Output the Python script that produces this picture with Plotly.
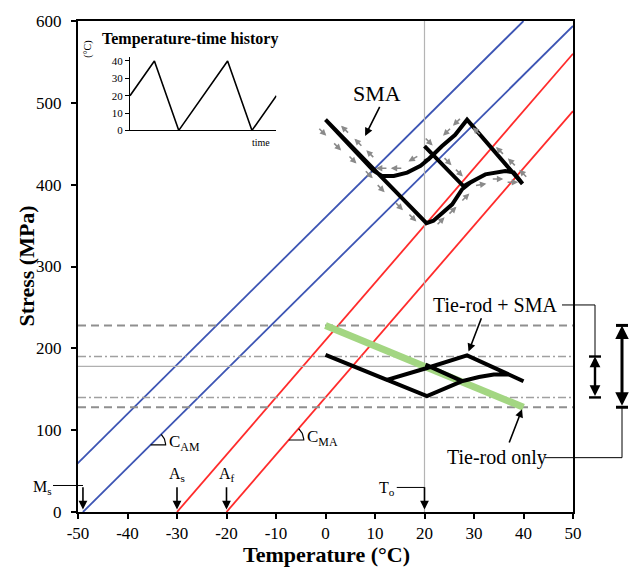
import math
import plotly.graph_objects as go

# ---------------- data ----------------
T_RANGE = [-50, 50]
S_RANGE = [0, 600]
x_ticks = [-50, -40, -30, -20, -10, 0, 10, 20, 30, 40, 50]
y_ticks = [0, 100, 200, 300, 400, 500, 600]

# martensite / austenite transformation lines: zero-stress temperature and slope (MPa/°C)
blue_T0 = [-60, -49]          # Mf, Ms
C_AM = 6
red_T0 = [-30, -20]           # As, Af
C_MA = 7

# stress bounds (MPa)
tie_rod_max, tie_rod_min = 228, 128
combined_max, combined_min = 190, 140
mean_stress = 178
T_o = 20

# tie-rod only response
tie_T = [0, 40]
tie_S = [228, 128]

# SMA stress path over the temperature cycle
sma_T = [20.0, 27.9, 29.3, 32.3, 36.3, 38.0, 39.8, 28.6, 26.2, 23.5, 20.8, 19.2, 16.5, 13.8, 11.4, 9.7,
         0.0, 20.4, 21.8, 25.6, 27.6, 29.3, 32.3, 36.3, 38.0, 39.8, 28.6, 26.2, 23.5, 20.8, 20.0]
sma_S = [447, 398, 403, 412.6, 416.7, 415, 401, 479.4, 461, 447, 431, 423, 414.7, 410.7, 410.7, 417,
         479.4, 353, 356, 376, 394.4, 402.6, 412.6, 416.7, 415, 401, 479.4, 461, 447, 431, 428]

# tie-rod + SMA stress path
combo_T = [20.2, 27.6, 31.0, 34.0, 37.0, 40.0, 28.6, 20.5, 12.4, 0.0, 20.5, 27.6, 31.0, 34.0, 37.0, 40.0,
           28.6, 20.5, 20.0]
combo_S = [180, 160, 165, 168, 168.1, 159.8, 191.4, 176, 161.5, 192, 141.6, 160, 165, 168, 168.1, 159.8,
           191.4, 176, 175.2]

# direction arrows along the SMA path: temperature, stress, direction (deg)
arr_T = [-0.7, 2.3, 5.4, 8.7, 11.1, 14.8, 17.5, 4.0, 6.7, 9.1, 11.4, 14.4, 17.8, 24.6, 26.6,
         20.8, 24.6, 26.9, 30.6, 35.3, 37.7, 40.0, 23.2, 25.6, 28.2, 31.3, 34.7, 37.7]
arr_S = [465, 447, 431, 413, 396, 374, 360, 467, 451, 437, 420, 420, 432, 465, 477,
         453, 429, 415, 465, 441, 427, 413, 355, 368, 384, 400, 407, 403]
arr_dir = [-45, -45, -45, -45, -45, -45, -45, 135, 135, 135, 180, 180, 210, 225, 225,
           -45, -45, -45, 135, 135, 135, 135, 45, 45, 45, 10, 0, 0]

# characteristic temperatures marked on the axis
mark_T = [-49, -30, -20, 20]
mark_labels = ["M<sub>s</sub>", "A<sub>s</sub>", "A<sub>f</sub>", "T<sub>o</sub>"]

# temperature-time history (inset)
hist_t = [0, 1, 2, 4, 5, 6]
hist_temp = [20, 40, 0, 40, 0, 20]
hist_ticks = [0, 10, 20, 30, 40]

# ---------------- layout constants ----------------
W, H = 630, 570
ML, MR, MT, MB = 78, 57, 17, 58
PW, PH = W - ML - MR, H - MT - MB
PX_T = PW / (T_RANGE[1] - T_RANGE[0])
PX_S = PH / (S_RANGE[1] - S_RANGE[0])

FONT = "Liberation Serif"
BLUE = "#3d55b4"
RED = "#ff2b2b"
GREY = "#8f8f8f"


def px_x(px):
    """paper x coordinate of a horizontal pixel position"""
    return (px - ML) / PW


def px_y(py):
    """paper y coordinate of a vertical pixel position"""
    return ((H - MB) - py) / PH


def line_end(t0, slope):
    t_end = min(T_RANGE[1], t0 + S_RANGE[1] / slope)
    return [t0, t_end], [0, slope * (t_end - t0)]


fig = go.Figure()

# transformation lines
for t0 in blue_T0:
    xs, ys = line_end(t0, C_AM)
    fig.add_trace(go.Scatter(x=xs, y=ys, mode="lines", line=dict(color=BLUE, width=1.8), hoverinfo="skip"))
for t0 in red_T0:
    xs, ys = line_end(t0, C_MA)
    fig.add_trace(go.Scatter(x=xs, y=ys, mode="lines", line=dict(color=RED, width=1.8), hoverinfo="skip"))

# stress bound lines
for lvl in (tie_rod_max, tie_rod_min):
    fig.add_trace(go.Scatter(x=T_RANGE, y=[lvl, lvl], mode="lines",
                             line=dict(color=GREY, width=2, dash="8px,5px"), hoverinfo="skip"))
for lvl in (combined_max, combined_min):
    fig.add_trace(go.Scatter(x=T_RANGE, y=[lvl, lvl], mode="lines",
                             line=dict(color="#a0a0a0", width=1.6, dash="8px,3px,2px,3px"), hoverinfo="skip"))
fig.add_trace(go.Scatter(x=T_RANGE, y=[mean_stress, mean_stress], mode="lines",
                         line=dict(color="#b0b0b0", width=1.2), hoverinfo="skip"))
fig.add_trace(go.Scatter(x=[T_o, T_o], y=S_RANGE, mode="lines",
                         line=dict(color="#b4b4b4", width=1.2), hoverinfo="skip"))

# tie-rod only
fig.add_trace(go.Scatter(x=tie_T, y=tie_S, mode="lines",
                         line=dict(color="#a3d682", width=7), hoverinfo="skip"))

# SMA and tie-rod + SMA paths
fig.add_trace(go.Scatter(x=sma_T, y=sma_S, mode="lines",
                         line=dict(color="black", width=4), hoverinfo="skip"))
fig.add_trace(go.Scatter(x=combo_T, y=combo_S, mode="lines",
                         line=dict(color="black", width=4), hoverinfo="skip"))

annotations = []


# slope indicators for C_AM and C_MA
def angle_mark(t0, slope, s_at, label, label_dt):
    tc = t0 + s_at / slope
    r = 15
    ang = math.atan(slope * PX_S / PX_T)
    arc_x, arc_y = [tc], [s_at]
    for i in range(13):
        a = ang * i / 12
        arc_x.append(tc + r * math.cos(a) / PX_T)
        arc_y.append(s_at + r * math.sin(a) / PX_S)
    fig.add_trace(go.Scatter(x=arc_x, y=arc_y, mode="lines", line=dict(color="black", width=1.2),
                             hoverinfo="skip"))
    annotations.append(dict(x=tc + label_dt, y=s_at + 2, xref="x", yref="y", text=label, showarrow=False,
                            xanchor="left", yanchor="middle", font=dict(family=FONT, size=17, color="black")))


angle_mark(blue_T0[1], C_AM, 82, "C<sub>AM</sub>", 3.4)
angle_mark(red_T0[1], C_MA, 88, "C<sub>MA</sub>", 3.3)

# inset: temperature-time history
fig.add_trace(go.Scatter(x=hist_t, y=hist_temp, mode="lines", xaxis="x2", yaxis="y2",
                         line=dict(color="black", width=1.6), hoverinfo="skip"))

# direction arrows on the SMA path
for t, s, a in zip(arr_T, arr_S, arr_dir):
    rad = math.radians(a)
    half = 6
    annotations.append(dict(
        x=t + half * math.cos(rad) / PX_T, y=s + half * math.sin(rad) / PX_S, xref="x", yref="y",
        ax=-2 * half * math.cos(rad), ay=2 * half * math.sin(rad), text="", showarrow=True,
        arrowhead=2, arrowsize=0.8, arrowwidth=1.6, arrowcolor="#8a8a8a"))

# characteristic temperature arrows
for t in mark_T:
    annotations.append(dict(x=t, y=3, ax=t, ay=32, xref="x", yref="y", axref="x", ayref="y",
                            text="", showarrow=True, arrowhead=2, arrowsize=1.1, arrowwidth=1.6,
                            arrowcolor="black"))
lab_font = dict(family=FONT, size=16, color="black")
annotations.append(dict(x=px_x(42.5), y=30, xref="paper", yref="y", text=mark_labels[0], showarrow=False,
                        xanchor="center", yanchor="middle", font=lab_font))
annotations.append(dict(x=mark_T[1], y=32, xref="x", yref="y", text=mark_labels[1], showarrow=False,
                        xanchor="center", yanchor="bottom", font=lab_font))
annotations.append(dict(x=mark_T[2], y=32, xref="x", yref="y", text=mark_labels[2], showarrow=False,
                        xanchor="center", yanchor="bottom", font=lab_font))
annotations.append(dict(x=12.4, y=29, xref="x", yref="y", text=mark_labels[3], showarrow=False,
                        xanchor="center", yanchor="middle", font=lab_font))

# path labels
txt_font = dict(family=FONT, size=20, color="black")
annotations.append(dict(x=10.4, y=512, xref="x", yref="y", text="SMA", showarrow=False,
                        xanchor="center", font=dict(family=FONT, size=22, color="black")))
annotations.append(dict(x=8.0, y=459.6, ax=11.1, ay=497, xref="x", yref="y", axref="x", ayref="y",
                        text="", showarrow=True, arrowhead=2, arrowsize=1, arrowwidth=1.6, arrowcolor="black"))
annotations.append(dict(x=34.2, y=253, xref="x", yref="y", text="Tie-rod + SMA", showarrow=False,
                        xanchor="center", font=txt_font))
annotations.append(dict(x=28.9, y=196, ax=31.6, ay=238.6, xref="x", yref="y", axref="x", ayref="y",
                        text="", showarrow=True, arrowhead=2, arrowsize=1, arrowwidth=1.6, arrowcolor="black"))
annotations.append(dict(x=34.6, y=66.5, xref="x", yref="y", text="Tie-rod only", showarrow=False,
                        xanchor="center", font=txt_font))
annotations.append(dict(x=39.7, y=125.5, ax=37.0, ay=83, xref="x", yref="y", axref="x", ayref="y",
                        text="", showarrow=True, arrowhead=2, arrowsize=1, arrowwidth=1.6, arrowcolor="black"))

# stress range double arrows beside the plot
x_small, x_big = px_x(595), px_x(622)
ranges = ((x_small, combined_max, combined_min, 2.4), (x_big, tie_rod_max, tie_rod_min, 3))
for xp, top, bot, w in ranges:
    annotations.append(dict(x=xp, y=top, ax=0, ay=bot, xref="paper", yref="y", ayref="y",
                            text="", showarrow=True, arrowhead=2, startarrowhead=2, arrowside="end+start",
                            arrowsize=0.9, startarrowsize=0.9, arrowwidth=w, arrowcolor="black"))

# axis titles
title_font = dict(family=FONT, size=22, color="black")
annotations.append(dict(x=px_x(326), y=px_y(555), xref="paper", yref="paper",
                        text="<b>Temperature (°C)</b>", showarrow=False, xanchor="center", yanchor="middle",
                        font=title_font))
annotations.append(dict(x=px_x(26), y=0.5, xref="paper", yref="paper", textangle=-90,
                        text="<b>Stress (MPa)</b>", showarrow=False, xanchor="center", yanchor="middle",
                        font=title_font))

# inset labels
annotations.append(dict(x=px_x(190), y=px_y(35), xref="paper", yref="paper",
                        text="<b>Temperature-time history</b>", showarrow=False, xanchor="center",
                        yanchor="middle", font=dict(family=FONT, size=16, color="black")))
annotations.append(dict(x=px_x(88), y=px_y(46), xref="paper", yref="paper",
                        text="(°C)", textangle=-90, showarrow=False, xanchor="center", yanchor="middle",
                        font=dict(family=FONT, size=10, color="black")))
annotations.append(dict(x=px_x(261), y=px_y(139), xref="paper", yref="paper",
                        text="time", showarrow=False, xanchor="center", yanchor="middle",
                        font=dict(family=FONT, size=10, color="black")))

shapes = []
# leader lines
lead = dict(color="black", width=1)
shapes.append(dict(type="line", xref="paper", yref="y", x0=px_x(53), x1=px_x(83), y0=32.4, y1=32.4, line=lead))
shapes.append(dict(type="line", xref="x", yref="y", x0=14.4, x1=T_o, y0=30, y1=30, line=lead))
shapes.append(dict(type="line", xref="paper", yref="y", x0=px_x(562), x1=x_small, y0=253, y1=253, line=lead))
shapes.append(dict(type="line", xref="paper", yref="y", x0=x_small, x1=x_small, y0=253, y1=combined_max, line=lead))
shapes.append(dict(type="line", xref="paper", yref="y", x0=px_x(545), x1=x_big, y0=66.4, y1=66.4, line=lead))
shapes.append(dict(type="line", xref="paper", yref="y", x0=x_big, x1=x_big, y0=66.4, y1=tie_rod_min, line=lead))
# end caps of the double arrows
cap = 6 / PW
for xp, top, bot, w in ranges:
    for lvl in (top, bot):
        shapes.append(dict(type="line", xref="paper", yref="y", x0=xp - cap, x1=xp + cap, y0=lvl, y1=lvl,
                           line=dict(color="black", width=w)))

tick_font = dict(family=FONT, size=17, color="black")
fig.update_layout(
    width=W, height=H,
    margin=dict(l=ML, r=MR, t=MT, b=MB),
    paper_bgcolor="white", plot_bgcolor="white",
    showlegend=False,
    font=dict(family=FONT, color="black"),
    xaxis=dict(range=T_RANGE, tickvals=x_ticks, ticktext=[str(v) for v in x_ticks],
               showgrid=False, zeroline=False,
               showline=True, linecolor="black", linewidth=2, mirror=True,
               ticks="outside", ticklen=5, tickwidth=1.5, tickcolor="black", tickfont=tick_font,
               ticklabelstandoff=0),
    yaxis=dict(range=S_RANGE, tickvals=y_ticks, ticktext=[str(v) for v in y_ticks],
               showgrid=False, zeroline=False,
               showline=True, linecolor="black", linewidth=2, mirror=True,
               ticks="outside", ticklen=5, tickwidth=1.5, tickcolor="black", tickfont=tick_font,
               ticklabelstandoff=6),
    xaxis2=dict(domain=[px_x(130), px_x(276.4)], range=[0, 6], anchor="y2",
                showgrid=False, zeroline=False, showline=True, linecolor="black", linewidth=1.2,
                showticklabels=False, ticks=""),
    yaxis2=dict(domain=[px_y(127.3), px_y(53.3)], range=[0, 42.3], anchor="x2",
                showgrid=False, zeroline=False, showline=True, linecolor="black", linewidth=1.2,
                tickvals=hist_ticks, ticktext=[str(v) for v in hist_ticks],
                ticks="outside", ticklen=4, tickwidth=1, tickcolor="black",
                tickfont=dict(family=FONT, size=11, color="black")),
    annotations=annotations,
    shapes=shapes,
)

fig.write_html("out.html")
